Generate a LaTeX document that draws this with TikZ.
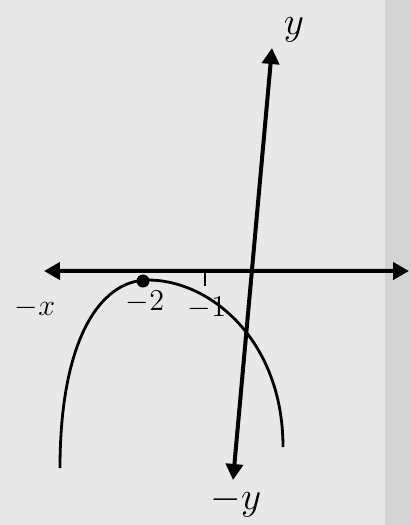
\documentclass[tikz,border=0pt]{standalone}
\usepackage{tikz}
\usetikzlibrary{positioning, arrows.meta, calc}

\begin{document}
\begin{tikzpicture}[
    x=1pt, y=-1pt,
    every node/.style={align=center, font=\Large, scale=2.1},
    bigvar/.style={scale=1.3},
    axis/.style={line width=4pt, -{Triangle[length=16pt, width=17pt]}},
    curvestroke/.style={line width=2.8pt},
    tick/.style={line width=2.8pt},
]
% paper background
\fill[black!9] (0,0) rectangle (411,525);
\fill[black!17] (385,0) rectangle (411,525);
\useasboundingbox (0,0) rectangle (411,525);
% axis end points
\coordinate (xl) at (44,271);
\coordinate (xr) at (409,271);
\coordinate (yt) at (272,48);
\coordinate (yb) at (233,480);
\coordinate (o) at ($(yt)!0.516!(yb)$);
% axes
\draw[axis] (o) -- (xl);
\draw[axis] (o) -- (xr);
\draw[axis] (o) -- (yt);
\draw[axis] (o) -- (yb);
% parabola
\draw[curvestroke] (60,468) .. controls (60,340) and (100,280) .. (148,280)
    .. controls (210,280) and (283,340) .. (283,447);
% vertex dot and tick
\fill (143,281) circle (6.5pt);
\draw[tick] (205,272) -- (205,286);
% labels
\node[bigvar] (ylab) at (294,30) {$y$};
\node[bigvar] (nylab) at (236,502) {$-y$};
\node (nxlab) at (35,308) {$-x$};
\node (m2) at (145,302) {$-2$};
\node (m1) at (207,308) {$-1$};
\end{tikzpicture}
\end{document}
